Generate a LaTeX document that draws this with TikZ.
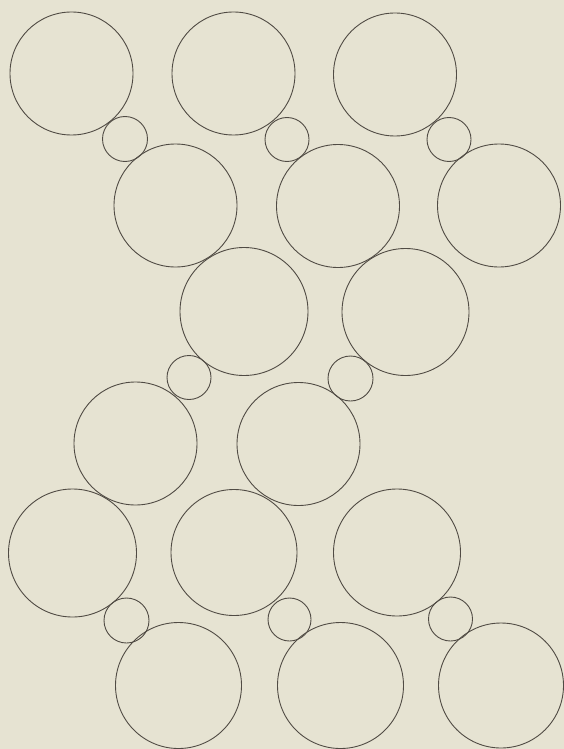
\documentclass[tikz,border=0pt]{standalone}
\definecolor{paper}{RGB}{230,227,210}
\definecolor{ink}{RGB}{80,75,68}
\begin{document}
\begin{tikzpicture}[x=1pt,y=-1pt,
  ring/.style={circle,draw=ink,line width=0.9pt,inner sep=0pt,minimum size=#1*2pt}]
\fill[paper] (0,0) rectangle (564,749);
\useasboundingbox (0,0) rectangle (564,749);
% row 1
\node[ring=61.5] (a1) at (71.5,73.5) {};
\node[ring=61.5] (a2) at (233.5,73.5) {};
\node[ring=61.5] (a3) at (395,74.5) {};
\node[ring=22.5] (s1) at (125,139) {};
\node[ring=22] (s2) at (287,139.5) {};
\node[ring=22] (s3) at (449,139.5) {};
% row 2
\node[ring=61.5] (b1) at (175.5,205.5) {};
\node[ring=61.5] (b2) at (338,206) {};
\node[ring=61.5] (b3) at (499,205.5) {};
% row 3
\node[ring=64] (c1) at (244,311.5) {};
\node[ring=63.5] (c2) at (405.5,312) {};
\node[ring=22] (t1) at (189,377.5) {};
\node[ring=22.5] (t2) at (350.5,378.5) {};
% row 4
\node[ring=61.5] (d1) at (135.5,443.5) {};
\node[ring=61.5] (d2) at (298.5,444) {};
% row 5
\node[ring=64] (e1) at (72.5,553) {};
\node[ring=63] (e2) at (234,552.5) {};
\node[ring=63.5] (e3) at (397,552.5) {};
\node[ring=22.5] (u1) at (126.5,620.5) {};
\node[ring=21.5] (u2) at (289.5,619.5) {};
\node[ring=22] (u3) at (450.5,619) {};
% row 6
\node[ring=63] (f1) at (178.5,685.5) {};
\node[ring=63] (f2) at (340.5,685.5) {};
\node[ring=62.5] (f3) at (501,685.5) {};
\end{tikzpicture}
\end{document}
